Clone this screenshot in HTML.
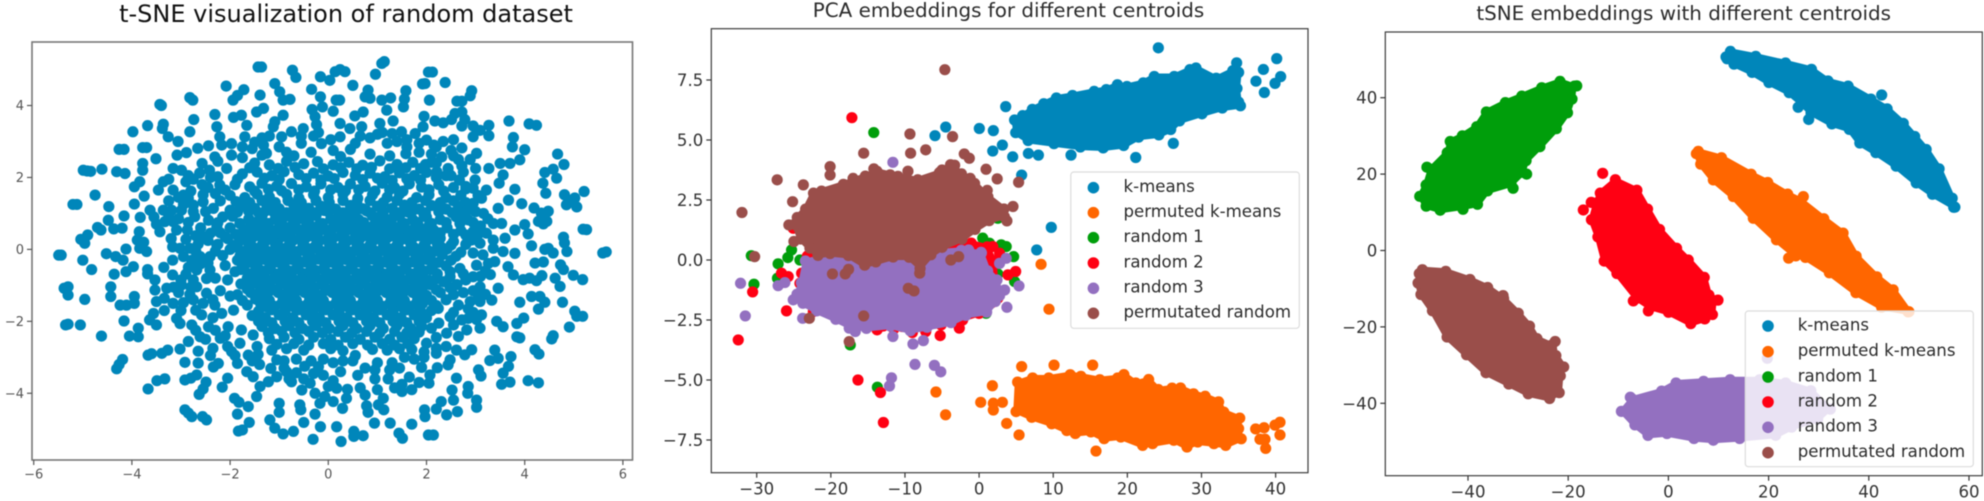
<!DOCTYPE html>
<html lang="en">
<head>
<meta charset="utf-8">
<title>Embedding scatter charts</title>
<style>
html,body{margin:0;padding:0;background:#fff;width:1984px;height:501px;overflow:hidden}
svg{display:block;font-family:"DejaVu Sans","Liberation Sans",sans-serif;filter:blur(.4px)}
.frame1{fill:none;stroke:#777;stroke-width:1.6}
.frame{fill:none;stroke:#3c3c3c;stroke-width:1.2}
text{fill:#2b2b2b}
</style>
</head>
<body>
<svg id="figure" width="1984" height="501" viewBox="0 0 1984 501" xmlns="http://www.w3.org/2000/svg">
  <rect width="1984" height="501" fill="#fff"/>

  <g>
    <text x="346" y="22" text-anchor="middle" font-size="24" style="fill:#111">t-SNE visualization of random dataset</text>
    <g id="p1-marks"></g>
    <rect class="frame1" x="32" y="42" width="600.5" height="418"/>
    <g id="p1-axes"></g>
  </g>

  <g>
    <text x="1008.5" y="17" text-anchor="middle" font-size="19.9">PCA embeddings for different centroids</text>
    <g id="p2-marks"></g>
    <rect class="frame" x="711.3" y="28.7" width="596.7" height="444"/>
    <g id="p2-axes"></g>
    <g font-size="16.6">
      <rect x="1070.8" y="172" width="228.5" height="156.3" rx="3" fill="#fff" fill-opacity=".8" stroke="#dcdcdc" stroke-width="1.2"/>
      <circle cx="1093.4" cy="187.7" r="5.8" fill="#0086ba"/>
      <text x="1123.5" y="192">k-means</text>
      <circle cx="1093.4" cy="212.7" r="5.8" fill="#ff6600"/>
      <text x="1123.5" y="217">permuted k-means</text>
      <circle cx="1093.4" cy="237.7" r="5.8" fill="#009e0b"/>
      <text x="1123.5" y="242">random 1</text>
      <circle cx="1093.4" cy="263" r="5.8" fill="#ff0013"/>
      <text x="1123.5" y="267.3">random 2</text>
      <circle cx="1093.4" cy="288.3" r="5.8" fill="#9370c0"/>
      <text x="1123.5" y="292.6">random 3</text>
      <circle cx="1093.4" cy="313.3" r="5.8" fill="#9a4e4a"/>
      <text x="1123.5" y="317.6">permutated random</text>
    </g>
  </g>

  <g>
    <text x="1683.7" y="20" text-anchor="middle" font-size="19.9">tSNE embeddings with different centroids</text>
    <g id="p3-marks"></g>
    <rect class="frame" x="1385.3" y="32" width="597" height="443.7"/>
    <g id="p3-axes"></g>
    <g font-size="16.6">
      <rect x="1745.3" y="311" width="228" height="155.7" rx="3" fill="#fff" fill-opacity=".8" stroke="#dcdcdc" stroke-width="1.2"/>
      <circle cx="1768" cy="326" r="5.8" fill="#0086ba"/>
      <text x="1797.7" y="330.3">k-means</text>
      <circle cx="1768" cy="351.7" r="5.8" fill="#ff6600"/>
      <text x="1797.7" y="356">permuted k-means</text>
      <circle cx="1768" cy="377" r="5.8" fill="#009e0b"/>
      <text x="1797.7" y="381.3">random 1</text>
      <circle cx="1768" cy="402" r="5.8" fill="#ff0013"/>
      <text x="1797.7" y="406.3">random 2</text>
      <circle cx="1768" cy="427.3" r="5.8" fill="#9370c0"/>
      <text x="1797.7" y="431.6">random 3</text>
      <circle cx="1768" cy="452.7" r="5.8" fill="#9a4e4a"/>
      <text x="1797.7" y="457">permutated random</text>
    </g>
  </g>
</svg>

<script>
/* ---------- Tick values ---------- */
const p1XTicks = [-6,-4,-2,0,2,4,6];
const p1YTicks = [-4,-2,0,2,4];
const p2XTicks = [-30,-20,-10,0,10,20,30,40];
const p2YTicks = [-7.5,-5,-2.5,0,2.5,5,7.5];
const p2YTickLabels = ['−7.5','−5.0','−2.5','0.0','2.5','5.0','7.5'];
const p3XTicks = [-40,-20,0,20,40,60];
const p3YTicks = [-40,-20,0,20,40];

/* ---------- Panel 1: random dataset, [x, y] ---------- */
const randomOuter = [[-5.49,-.16],[-5.44,-.16],[-5,-.3],[-4.82,-.56],[-5.04,.28],[-4.9,.4],[-4.96,.17],[-4.7,.61],[-4.63,.54],[-5.2,1.25],[-5.12,1.25],[-4.75,1.51],[-4.99,2.2],[-4.84,2.17],[-4.91,2.18],[-4.61,2.23],[-4.31,2.16],[-4.14,2.11],[-4.26,2.78],[-4.16,2.78],[-3.98,3.27],[-3.68,3.44],[-3.43,4.03],[-3.4,4],[-3.78,2.83],[-3.7,2.83],[-3.78,2.39],[-3.78,2.2],[-3.51,2.52],[-3.95,1.74],[-3.84,1.88],[-3.95,1.26],[-3.75,1.48],[-4.47,1.19],[-4.48,.81],[-4.37,.57],[-4.2,.59],[-4.16,.93],[-3.83,.89],[-3.85,.49],[-3.89,.26],[-4.12,.01],[-3.84,.03],[-3.7,-.06],[-3.76,.2],[-4.52,-.12],[-4.33,-.2],[-4.18,-.3],[-4.12,-.62],[-3.97,-.48],[-4.36,-.69],[-3.68,-.56],[-3.68,-.68],[-5.3,-1.04],[-5.38,-1.08],[-5.3,-1.27],[-4.96,-1.39],[-4.43,-1.04],[-4.43,-1.31],[-4.24,-1.55],[-4.11,-1.55],[-3.95,-1.31],[-3.95,-1.5],[-5.35,-2.1],[-5.3,-2.08],[-5.05,-2.1],[-4.16,-1.99],[-4.62,-2.41],[-4.05,-2.41],[-3.87,-2.19],[-3.87,-2.43],[-4.31,-3.32],[-4.19,-3.06],[-4.26,-3.2],[-3.67,-2.94],[-3.6,-2.9],[-3.39,-2.89],[-3.27,-2.8],[-3.67,-3.88],[-3.49,-3.65],[-3.33,-3.6],[-2.92,-3.14],[-2.92,-3.63],[-2.8,-3.58],[-2.92,-4.46],[-2.78,-4.65],[-2.85,-4.55],[-2.48,-4.74],[-2.56,-4.65],[-2.63,-4.03],[-2.49,-3.69],[-2.55,-3.88],[-1.85,-4.58],[-1.83,-5.05],[-1.75,-5.02],[-1.63,-4.37],[-1.61,-4.81],[-1.91,-4.14],[-1.82,-4.25]];
const randomRightEdge = [[4.09,3.49],[4.24,3.45],[4,2.77],[3.9,2.49],[4.67,2.65],[4.8,2.36],[4.58,2.23],[4.41,2.14],[4.65,1.98],[4.37,1.84],[4.43,1.56],[4.81,1.52],[5.02,1.43],[5.21,1.61],[4.85,1.24],[5.06,1.18],[4.92,1.34],[4.19,1.15],[4.48,1.06],[4.34,1.01],[3.94,1.27],[4.28,.78],[4.45,.78],[4.38,.71],[4,.69],[4.07,.43],[5.19,.56],[5.26,.55],[4.79,.34],[4.81,.18],[4.86,-.06],[4.14,.1],[4.48,.03],[4.58,-.1],[4.41,0],[5.59,-.1],[5.66,-.07],[4.21,-.38],[4.38,-.35],[4.73,-.43],[4.79,-.56],[4.99,-.72],[5.18,-.84],[4.72,-1.03],[4.62,-.8],[4.35,-.73],[3.97,-.84],[4.24,-.87],[4.1,-.8],[4.14,-1.31],[4.31,-1.31],[4.41,-1.47],[4.28,-1.66],[4.77,-1.47],[3.9,-1.47],[3.98,-1.91],[5.02,-1.72],[5.18,-1.86],[5.06,-1.86],[4.91,-2.16],[4.55,-2.49],[4.58,-2.4],[4.21,-2.79],[4.29,-2.91],[4.07,-3.65],[4.28,-3.71],[3.9,-2.46]];
const randomRightMid = [[1.92,4.6],[2.04,4.93],[2.12,4.93],[2.38,4.64],[2.06,4.15],[1.97,4.61],[2.92,4.41],[2.89,4.27],[2.62,4.12],[2.72,4.12],[1.95,3.7],[2.17,3.57],[2.34,3.52],[2.51,3.61],[2.58,3.78],[2.72,3.82],[2.78,3.61],[2.72,3.43],[2.95,3.43],[2.95,3.13],[3.09,3.31],[3.27,3.45],[3.27,3.16],[3.68,3.57],[3.77,3.11],[3.75,2.85],[3.02,2.67],[2.89,2.5],[2.72,2.32],[3.27,2.25],[2.99,1.93],[2.67,1.93],[3.22,1.65],[3.5,2.39],[3.7,2.39],[3.56,2.07],[3.48,1.84],[3.8,1.67],[3.12,1.42],[2.95,1.28],[3.16,1],[3.36,.72],[3.46,1.14],[3.67,1.37],[3.53,.72],[2.95,.49],[2.92,.26],[3.09,.17],[3.36,.26],[3.36,.03],[3.6,.31],[3.8,.54],[3.56,-.06],[3.8,-.11],[3.26,-.39],[3.02,-.44],[3.39,-.34],[3.66,-.48],[3.77,-.71],[3.46,-1.08],[3.09,-1.04],[2.95,-.76],[2.68,-.53],[3.33,-1.41],[3.09,-1.45],[2.89,-1.45],[2.72,-1.96],[2.85,-1.92],[3.12,-1.82],[3.09,-2.19],[3.43,-2],[3.56,-2.15],[3.84,-2.06],[3.84,-2.43],[2.82,-2.24],[2.48,-1.87],[2.41,-2.33],[2.65,-2.42],[2.61,-2.8],[2.92,-2.79],[2.78,-2.93],[2.48,-3.07],[2.44,-3.21],[3.39,-2.8],[3.46,-3.03],[3.29,-3.09],[3.72,-2.98],[3.67,-3.25],[3.56,-3.44],[3.53,-3.75],[3.7,-3.69],[3.06,-3.35],[3.11,-3.52],[2.85,-3.81],[2.84,-4],[3.02,-4.19],[3.02,-4.39],[2.61,-3.58],[2.52,-3.91],[2.55,-4.19],[2.63,-4.51],[2.41,-4.6],[2.3,-4.23],[2.2,-4.44],[1.96,-4.46],[1.97,-4.65],[2.14,-5.16],[2.04,-5.16],[2.2,-2.89],[2.22,-3.29],[2.07,-3.49],[2.05,-3.72],[1.9,-3.28],[2,-2.61],[2.1,-2.19],[2.24,-1.64]];
const randomBottom = [[-.71,-5.06],[-.92,-5.13],[-1.09,-4.97],[-1.19,-4.74],[-1,-4.28],[-1,-4.53],[-.58,-4.32],[-.56,-4.46],[-.5,-4.81],[-.27,-4.58],[-.31,-5.28],[-.16,-4.93],[.17,-4.93],[.26,-5.34],[.52,-5.06],[.52,-5.2],[.71,-5.18],[.94,-4.83],[1.26,-4.83],[1.44,-5.11],[1.51,-5.25],[1.7,-4.86],[.78,-4.35],[.81,-4.53],[1.02,-4.32],[1.12,-4.14],[1.13,-4.46],[.29,-4.42],[.37,-4.14],[.39,-3.89],[.1,-4.23],[-.17,-4.28],[-.07,-4.09],[0,-3.81],[.17,-3.86],[-.27,-4],[-.54,-3.91],[-.75,-3.68],[-.37,-3.72],[-.2,-3.26],[-.48,-3.25],[-.65,-3.43],[-.85,-3.4],[-1.05,-3.54],[-1.05,-3.07],[-1.17,-3.31],[-1.46,-4.09],[-1.39,-3.81],[-1.22,-3.68],[-1.53,-3.54],[-1.66,-3.4],[-1.85,-3.17],[-1.97,-2.84],[-1.63,-2.94],[-1.43,-2.92],[-2.05,-3.58],[-2.16,-3.83],[-2.24,-3.17],[-2.34,-3.27],[-2.65,-3.16],[-2.65,-2.83],[-2.68,-3.49],[-3.02,-2.77],[-2.85,-2.56],[-2.61,-2.43],[-2.78,-2.1],[-2.44,-2.15],[-3.09,-1.92],[-3.02,-2.06],[-3.56,-1.78],[-3.64,-1.96],[-3.5,-2.1],[-2.7,-1.69],[-2.58,-1.82],[-2.2,-2.47],[.5,-3.1],[.75,-3.3],[1,-3.15],[1.25,-3.35],[1.45,-3.3],[.6,-3.5],[.95,-3.6],[1.22,-3.6],[1.5,-3.75],[1.65,-3.55],[1.85,-3.7],[1,-3.9],[1.5,-3.95],[.25,-3.4],[-.1,-3.5],[.55,-2.95],[1.55,-3],[1.75,-3.05]];
const randomTop = [[-1.43,5.07],[-1.36,5.07],[-.73,4.98],[-.66,4.78],[-.16,4.8],[.03,4.7],[.14,4.94],[.24,5],[.34,4.94],[.5,4.56],[.96,4.87],[1.09,5.17],[1.14,5.22],[.81,4.43],[.75,4.24],[.85,4.2],[.16,4.15],[.23,4.15],[-.16,4.24],[-.34,4.45],[-1.09,4.61],[-.99,4.38],[-.92,4.15],[-.78,4.17],[-1.39,4.29],[-1.72,4.44],[-2.08,4.54],[-1.94,4.15],[-1.85,4.28],[-2.82,4.22],[-2.76,4.15],[1.09,4.15],[1.27,4.21],[1.19,3.87],[1.58,4.41],[1.53,3.96],[1.55,4.18],[.54,3.71],[.71,3.82],[.1,3.84],[-.12,3.96],[-.33,3.89],[-.27,3.69],[-.24,3.47],[.24,3.5],[-.92,3.73],[-1.09,3.55],[-1.12,3.41],[-1.32,3.92],[-1.46,3.82],[-1.77,3.73],[-1.66,3.45],[-1.93,3.67],[-2.31,3.75],[-2.27,3.41],[-2.74,3.61],[-2.82,3.27],[-3.06,3],[-3.36,3.48],[-3.38,3.36],[-3.26,3.13],[-2.66,2.81],[-2.44,2.88],[-2.89,2.69],[-3.08,2.62],[-2.31,2.57],[-2.21,3.13],[-2.17,2.9],[-3.16,2.25],[-2.99,2.2],[-2.9,1.88],[-3.36,1.88],[-3.46,1.65],[-3.16,1.65],[-2.95,1.51],[-2.57,2.39],[-2.42,2.2],[-2.57,1.8],[-2.21,1.79],[-2.07,2.25],[-1.97,2.62],[-1.97,2.94],[-1.7,3.13],[-1.32,2.9],[-1.26,2.67],[-.95,3.13],[-.75,3.27],[-.51,3.36],[-.14,2.94],[.24,3.13],[.44,3.36],[.68,3.41],[1.05,3.5],[1.32,3.57],[1.49,3.27],[1.77,3.22],[1.93,3.41],[2,3.04],[2.34,3],[2.55,3.05],[2.72,2.82],[2.31,2.57],[2.44,2.25],[2.21,2.16],[-1.55,2.8],[-1,2.85],[-.55,2.95],[.1,2.75],[.55,2.95],[.85,3.1],[1.2,2.95],[1.6,2.85],[1.85,2.7],[2.1,2.65]];
const randomLeftMid = [[-3.63,1.09],[-3.36,1.09],[-3.19,1.09],[-3.33,.77],[-3.16,.77],[-3.09,.54],[-3.43,.49],[-2.87,.54],[-2.99,1.09],[-2.75,1.23],[-2.55,1.32],[-2.34,1.14],[-2.72,.91],[-2.44,.81],[-2.27,.63],[-2,1.09],[-3.17,.07],[-3.02,.03],[-2.82,.03],[-2.61,-.2],[-2.41,-.2],[-2.27,.12],[-3.17,-.3],[-3.17,-.71],[-2.68,-.57],[-2.9,-.69],[-2.41,-.57],[-2.48,-.81],[-3.53,-.85],[-3.53,-1.13],[-3.29,-1.08],[-2.99,-.99],[-2.68,-1.04],[-2.48,-1.22],[-3.34,-1.36],[-3.16,-1.5],[-2.95,-1.48],[-3.34,-1.7],[-2.31,-1.55],[-2.17,-1.78],[-1.93,-1.69],[-2.04,-2.15],[-1.77,-2.24],[-1.53,-2.38],[-1.8,-2.61],[-2.1,.35],[-2.15,.9],[-2.3,-.05],[-2.1,-.45],[-2.05,-.85],[-2.2,-1.15],[-2.35,-1.4],[-2,-1.3],[-2.55,.35],[-2.6,-.4]];
const randomCenter = [[-1.5,2.4],[-1.2,2.35],[-.85,2.45],[-.5,2.38],[-.22,2.44],[.1,2.35],[.42,2.42],[.7,2.34],[1.05,2.46],[1.4,2.36],[1.72,2.42],[1.98,2.36],
[-1.75,2.1],[-1.45,2.15],[-1.15,2.05],[-.9,2.16],[-.6,2.08],[-.3,2.12],[0,2.04],[.3,2.14],[.55,2.06],[.85,2.12],[1.15,2.02],[1.45,2.13],[1.75,2.05],[2,2.14],
[-1.9,1.8],[-1.6,1.74],[-1.35,1.84],[-1.05,1.76],[-.75,1.83],[-.45,1.74],[-.15,1.82],[.2,1.72],[.45,1.82],[.75,1.75],[1.1,1.84],[1.35,1.72],[1.65,1.82],[1.9,1.73],[2.25,1.8],[2.55,1.72],
[-2,1.5],[-1.7,1.44],[-1.45,1.54],[-1.2,1.46],[-.85,1.53],[-.6,1.43],[-.3,1.52],[0,1.44],[.3,1.54],[.6,1.42],[.9,1.52],[1.2,1.45],[1.45,1.54],[1.8,1.44],[2.05,1.52],[2.4,1.44],[2.7,1.5],
[-1.75,1.2],[-1.5,1.14],[-1.25,1.22],[-1,1.13],[-.7,1.23],[-.4,1.14],[-.15,1.2],[.15,1.12],[.45,1.22],[.7,1.13],[1,1.2],[1.3,1.14],[1.55,1.23],[1.85,1.12],[2.1,1.22],[2.4,1.12],[2.65,1.2],
[-1.95,.92],[-1.62,.85],[-1.35,.93],[-1.08,.84],[-.82,.93],[-.52,.85],[-.25,.94],[.05,.84],[.35,.92],[.62,.83],[.9,.93],[1.18,.84],[1.45,.92],[1.72,.83],[2,.9],[2.28,.83],[2.6,.91],[2.85,.82],
[-2,.6],[-1.72,.54],[-1.45,.62],[-1.18,.53],[-.9,.62],[-.62,.55],[-.35,.63],[-.05,.54],[.2,.62],[.5,.53],[.78,.62],[1.05,.55],[1.32,.62],[1.6,.53],[1.85,.62],[2.15,.53],[2.42,.6],[2.7,.52],
[-2.05,.3],[-1.8,.24],[-1.55,.32],[-1.28,.23],[-1,.31],[-.72,.25],[-.45,.33],[-.18,.24],[.1,.32],[.38,.23],[.65,.31],[.92,.25],[1.2,.32],[1.45,.23],[1.72,.32],[2,.23],[2.28,.31],[2.55,.22],
[-2,0],[-1.7,-.05],[-1.42,.02],[-1.15,-.06],[-.88,.02],[-.6,-.05],[-.32,.03],[-.05,-.06],[.22,.01],[.5,-.06],[.78,.02],[1.05,-.05],[1.32,.02],[1.6,-.06],[1.88,.01],[2.15,-.06],[2.42,.01],[2.7,-.08],
[-1.85,-.3],[-1.58,-.36],[-1.3,-.28],[-1.02,-.36],[-.75,-.28],[-.48,-.35],[-.2,-.27],[.08,-.36],[.35,-.28],[.62,-.35],[.9,-.27],[1.18,-.36],[1.45,-.28],[1.72,-.35],[2,-.28],[2.25,-.36],[2.5,-.3],
[-1.9,-.62],[-1.62,-.68],[-1.35,-.6],[-1.08,-.68],[-.8,-.6],[-.52,-.67],[-.25,-.59],[.02,-.68],[.3,-.6],[.58,-.67],[.85,-.59],[1.12,-.68],[1.4,-.6],[1.68,-.68],[1.95,-.6],[2.22,-.68],[2.48,-.62],[2.75,-.68],
[-1.78,-.96],[-1.5,-.9],[-1.22,-.98],[-.95,-.9],[-.68,-.98],[-.4,-.9],[-.12,-.98],[.15,-.9],[.42,-.98],[.7,-.91],[.98,-.98],[1.25,-.9],[1.52,-.98],[1.8,-.9],[2.08,-.98],[2.35,-.9],[2.62,-.98],
[-1.85,-1.26],[-1.58,-1.2],[-1.3,-1.28],[-1.02,-1.2],[-.75,-1.28],[-.48,-1.2],[-.2,-1.28],[.08,-1.2],[.35,-1.28],[.62,-1.2],[.9,-1.28],[1.18,-1.2],[1.45,-1.28],[1.72,-1.2],[2,-1.28],[2.28,-1.2],[2.55,-1.26],
[-1.65,-1.55],[-1.38,-1.5],[-1.1,-1.58],[-.82,-1.5],[-.55,-1.58],[-.28,-1.5],[0,-1.58],[.28,-1.5],[.55,-1.58],[.82,-1.5],[1.1,-1.58],[1.38,-1.5],[1.65,-1.58],[1.92,-1.5],[2.2,-1.56],
[-1.55,-1.84],[-1.28,-1.9],[-1,-1.82],[-.72,-1.9],[-.45,-1.82],[-.18,-1.9],[.1,-1.82],[.38,-1.9],[.65,-1.82],[.92,-1.9],[1.2,-1.82],[1.48,-1.9],[1.75,-1.82],[2,-1.9],
[-1.35,-2.14],[-1.08,-2.2],[-.8,-2.12],[-.52,-2.2],[-.25,-2.12],[.02,-2.2],[.3,-2.12],[.58,-2.2],[.85,-2.12],[1.12,-2.2],[1.4,-2.12],[1.68,-2.2],[1.9,-2.14],
[-1.2,-2.48],[-.9,-2.44],[-.6,-2.5],[-.3,-2.44],[.05,-2.5],[.35,-2.44],[.65,-2.5],[.95,-2.44],[1.25,-2.5],[1.5,-2.44],[1.75,-2.48],
[-1.15,-2.8],[-.85,-2.76],[-.5,-2.8],[.05,-2.76],[.3,-2.82],[.9,-2.78],[1.2,-2.8],[1.45,-2.76]];
const randomCenterFill = [[-1.35,2.62],[-.7,2.6],[-.35,2.7],[.25,2.58],[.85,2.65],[1.25,2.6],[1.58,2.66],
[-1.6,2.27],[-1.02,2.25],[-.68,2.28],[-.1,2.24],[.25,2.27],[.58,2.24],[.88,2.28],[1.25,2.24],[1.58,2.27],[1.88,2.25],[2.2,2.4],
[-1.85,1.95],[-1.3,1.98],[-1,1.94],[-.45,1.97],[-.15,1.93],[.12,1.97],[.7,1.94],[1,1.98],[1.3,1.92],[1.6,1.96],[1.88,1.93],[2.2,2],[2.5,2.05],
[-2.1,1.65],[-1.5,1.62],[-1.22,1.67],[-.95,1.63],[-.6,1.66],[-.28,1.62],[.05,1.66],[.35,1.63],[.62,1.66],[.95,1.62],[1.25,1.66],[1.52,1.62],[2.05,1.66],[2.35,1.62],[2.8,1.68],
[-1.88,1.33],[-1.6,1.3],[-1.35,1.36],[-1.08,1.3],[-.82,1.36],[-.55,1.3],[-.25,1.36],[.02,1.3],[.3,1.36],[.58,1.3],[.85,1.36],[1.12,1.3],[1.4,1.36],[1.7,1.3],[1.98,1.36],[2.28,1.3],[2.55,1.35],
[-1.85,1.04],[-1.42,1.02],[-1.12,1.05],[-.85,1.02],[-.55,1.05],[-.28,1.02],[0,1.05],[.3,1.02],[.55,1.05],[.85,1.02],[1.12,1.05],[1.42,1.02],[1.7,1.05],[1.98,1.02],[2.25,1.05],[2.52,1.02],
[-2.25,.74],[-1.8,.72],[-1.5,.75],[-1.22,.72],[-.95,.75],[-.68,.72],[-.4,.75],[-.12,.72],[.18,.75],[.45,.72],[.72,.75],[1,.72],[1.28,.75],[1.55,.72],[1.82,.75],[2.1,.72],[2.4,.75],[2.68,.72],
[-2.2,.46],[-1.88,.42],[-1.6,.46],[-1.32,.42],[-1.05,.46],[-.78,.42],[-.5,.46],[-.22,.42],[.05,.46],[.32,.42],[.6,.46],[.88,.42],[1.15,.46],[1.42,.42],[1.7,.46],[1.98,.42],[2.28,.46],[2.55,.42],
[-2.25,.14],[-1.9,.12],[-1.62,.16],[-1.35,.12],[-1.08,.16],[-.8,.12],[-.52,.16],[-.25,.12],[.02,.16],[.3,.12],[.58,.16],[.85,.12],[1.12,.16],[1.4,.12],[1.68,.16],[1.95,.12],[2.22,.16],[2.5,.12],[2.8,.14],
[-2.15,-.17],[-1.8,-.19],[-1.52,-.15],[-1.25,-.19],[-.98,-.15],[-.7,-.19],[-.42,-.15],[-.15,-.19],[.12,-.15],[.4,-.19],[.68,-.15],[.95,-.19],[1.22,-.15],[1.5,-.19],[1.78,-.15],[2.05,-.19],[2.32,-.15],[2.6,-.19],
[-1.72,-.5],[-1.45,-.46],[-1.18,-.5],[-.9,-.46],[-.62,-.5],[-.35,-.46],[-.08,-.5],[.2,-.46],[.48,-.5],[.75,-.46],[1.02,-.5],[1.3,-.46],[1.58,-.5],[1.85,-.46],[2.12,-.5],[2.4,-.46],
[-1.65,-.8],[-1.38,-.76],[-1.1,-.82],[-.82,-.76],[-.55,-.82],[-.28,-.76],[0,-.82],[.28,-.76],[.55,-.82],[.82,-.76],[1.1,-.82],[1.38,-.76],[1.65,-.82],[1.92,-.76],[2.2,-.82],[2.48,-.76],
[-1.65,-1.1],[-1.38,-1.06],[-1.1,-1.12],[-.82,-1.06],[-.55,-1.12],[-.28,-1.06],[0,-1.12],[.28,-1.06],[.55,-1.12],[.82,-1.06],[1.1,-1.12],[1.38,-1.06],[1.65,-1.12],[1.92,-1.06],[2.2,-1.12],[2.48,-1.06],
[-1.75,-1.42],[-1.48,-1.38],[-1.2,-1.42],[-.92,-1.38],[-.65,-1.42],[-.38,-1.38],[-.1,-1.42],[.18,-1.38],[.45,-1.42],[.72,-1.38],[1,-1.42],[1.28,-1.38],[1.55,-1.42],[1.82,-1.38],[2.1,-1.42],[2.4,-1.4],
[-1.42,-1.72],[-1.15,-1.68],[-.88,-1.72],[-.6,-1.68],[-.32,-1.72],[-.05,-1.68],[.22,-1.72],[.5,-1.68],[.78,-1.72],[1.05,-1.68],[1.32,-1.72],[1.6,-1.68],[1.88,-1.72],[2.1,-1.7],
[-1.42,-2],[-1.15,-2.04],[-.88,-2],[-.6,-2.04],[-.32,-2],[-.05,-2.04],[.22,-2],[.5,-2.04],[.78,-2],[1.05,-2.04],[1.32,-2],[1.6,-2.04],[1.85,-2],
[-1.22,-2.32],[-.95,-2.28],[-.68,-2.32],[-.4,-2.28],[-.12,-2.32],[.2,-2.28],[.48,-2.32],[.78,-2.28],[1.05,-2.32],[1.35,-2.28],[1.6,-2.32],[1.85,-2.3],
[-1.05,-2.64],[-.7,-2.62],[-.4,-2.66],[-.1,-2.62],[.2,-2.66],[.5,-2.62],[.8,-2.66],[1.1,-2.62],[1.35,-2.66],[1.62,-2.62]];
const randomRing = [[-3.25,1.35],[-2.95,1.25],[-3.05,.85],[-2.85,.75],[-2.6,.6],[-2.4,.45],[-2.75,1.05],[-2.5,1.05],[-2.2,1.35],[-2.3,1.55],[-2.55,1.52],[-2.8,1.62],
[-3.55,.9],[-3.5,.7],[-2.9,.28],[-2.65,.15],[-2.45,.25],[-2.95,-.2],[-2.78,-.3],[-2.45,-.38],[-2.85,-.5],[-3,-.85],[-2.75,-.85],[-2.3,-.8],[-2.82,-1.25],[-2.55,-1.5],[-2.75,-1.4],[-3.05,-1.2],[-3.5,-1.45],[-2.35,-1.9],[-2.3,-2.25],[-2.1,-2.4],[-2.5,-2.5],[-2.35,-2.75],[-2.05,-2.7],
[-1.75,2.55],[-1.5,2.98],[-1.2,3.15],[-.85,2.7],[-.3,3.15],[.45,2.78],[.65,3.15],[1,3.2],[1.4,3],[1.6,3.05],[2.2,2.85],[2.55,2.6],[2.65,2.5],[2.1,2.42],[2.4,2.05],
[2.95,1.7],[2.8,1.3],[3,1.05],[2.75,.98],[3.1,.65],[2.95,.75],[3.22,.45],[2.8,.4],[3.15,-.15],[2.95,-.1],[3.3,-.7],[3.1,-.75],[2.8,-.85],[2.95,-1.15],[2.75,-1.2],[3.2,-1.25],[2.65,-1.55],[2.55,-1.75],[2.95,-1.75],[2.25,-2.05],[2.2,-2.45],[2.4,-2.7],
[1.7,-2.78],[1.95,-2.85],[-1.45,-2.7],[-1.4,-3.2],[-.9,-3.1],[-.65,-3.05],[-.35,-3.1],[-.1,-3.05],[.1,-3.15],[.3,-3.1],[-.8,-3.6],[-.5,-3.6],[.65,-3.85],[.75,-4.05],[1.35,-3.85],[1.7,-3.9]];
const randomDenseCore = [[-1.62,1.06],[-1.28,1.07],[-.98,.97],[-.68,1],[-.38,.98],[-.08,1.08],[.22,.99],[.48,.96],[.78,1.07],[1.08,.95],[1.35,.98],[1.62,1.04],[1.95,.96],
[-1.58,.66],[-1.32,.68],[-1.02,.58],[-.75,.65],[-.48,.58],[-.2,.66],[.08,.58],[.35,.68],[.62,.6],[.92,.66],[1.18,.6],[1.48,.66],[1.75,.58],[2.05,.66],
[-1.72,.38],[-1.42,.38],[-1.15,.28],[-.88,.36],[-.58,.3],[-.32,.37],[-.02,.28],[.25,.36],[.52,.28],[.78,.38],[1.05,.3],[1.32,.37],[1.58,.29],[1.85,.38],[2.12,.3],
[-1.85,.05],[-1.55,.08],[-1.28,-.02],[-1,.07],[-.74,-.02],[-.46,.06],[-.18,-.02],[.1,.07],[.36,-.02],[.65,.06],[.92,-.02],[1.18,.06],[1.46,-.02],[1.74,.06],[2.02,-.02],[2.3,.06],
[-1.72,-.24],[-1.42,-.24],[-1.15,-.32],[-.88,-.24],[-.6,-.33],[-.34,-.24],[-.05,-.32],[.22,-.24],[.5,-.32],[.76,-.24],[1.04,-.32],[1.32,-.24],[1.58,-.32],[1.86,-.24],[2.12,-.34],
[-1.78,-.56],[-1.5,-.62],[-1.22,-.55],[-.95,-.63],[-.66,-.55],[-.38,-.62],[-.1,-.55],[.16,-.62],[.44,-.55],[.72,-.62],[.98,-.55],[1.26,-.63],[1.54,-.55],[1.82,-.62],[2.08,-.56],
[-1.52,-.94],[-1.25,-.84],[-.96,-.95],[-.7,-.84],[-.42,-.95],[-.14,-.84],[.14,-.96],[.4,-.84],[.68,-.95],[.96,-.84],[1.22,-.96],[1.5,-.84],[1.78,-.96],[2.05,-.86],
[-1.45,-1.24],[-1.18,-1.14],[-.88,-1.25],[-.62,-1.14],[-.35,-1.25],[-.06,-1.14],[.2,-1.25],[.48,-1.14],[.76,-1.25],[1.02,-1.14],[1.3,-1.25],[1.58,-1.14],[1.85,-1.25],
[-1.25,-1.6],[-.96,-1.52],[-.68,-1.62],[-.42,-1.52],[-.14,-1.62],[.14,-1.52],[.42,-1.62],[.68,-1.52],[.96,-1.62],[1.24,-1.52],[1.52,-1.62],[1.78,-1.52]];
const randomMidFill = [[-2.85,1.42],[-3.05,1.45],[-2.45,1.72],[-2.75,1.95],[-2.4,2],[-2.25,2.02],[-2.85,2.05],[-3.25,1.95],[-2.62,2.12],[-2.25,2.45],[-1.75,2.85],[-1.35,3.1],[-.55,3.15],[-.2,3.25],[.05,3.05],[1.1,3.25],[1.3,3.22],[1.85,2.95],[2.15,2.9],[2.5,2.75],
[2.75,2.15],[3,2.25],[2.8,1.75],[3.05,1.5],[2.85,1.1],[3.25,.85],[3.05,.42],[3.2,-.6],[3.05,-1.25],[2.85,-1.65],[2.55,-2.1],[3.02,-1.95],[2.2,-2.75],[1.95,-3],[1.3,-3.15],[.95,-3.35],[.1,-3.65],[-.3,-3.45],[-.9,-3.3],[-1.55,-3.1],[-1.9,-2.95],[-2.4,-2.95],
[-2.7,-2.25],[-3,-1.7],[-3.15,-1.05],[-2.8,-1.05],[-3.35,-.5],[-2.7,-.05],[-3.2,.3],[-2.7,.38],[-3.25,.95]];

/* ---------- Panel 2: PCA. Rims trace the silhouette of each dense cluster; strays are isolated points ---------- */
const pcaKMeansRim = [[4.18,5.9],[5.52,6.18],[6.87,6.45],[8.45,6.69],[10.25,6.94],[12.49,7.05],[15.41,7.22],[16.98,7.29],[18.56,7.5],[19.9,7.43],[21.93,7.57],[23.5,7.84],[26.2,7.84],[28.23,8.12],[29.44,8.19],[32.05,7.77],[33.85,8.05],[34.97,8.4],[35.65,7.84],[35.43,7.15],[35.65,6.59],[35.56,6.25],[32.94,6.14],[30.25,5.9],[27.33,5.62],[26.2,5.27],[24.4,5.02],[21.7,4.93],[19.69,4.58],[16.76,4.47],[13.6,4.51],[10.02,4.65],[6.42,4.79],[4.39,5.2]];
const pcaKMeansStrays = [[24.18,8.84],[3.59,6.39],[.03,5.48],[1.92,5.39],[3.14,4.79],[1.84,4.54],[4.53,4.3],[6.65,4.44],[8,4.37],[12.4,4.37],[21.13,4.27],[26.2,4.86],[5.74,3.54],[40.15,8.39],[38.35,7.94],[37.35,7.45],[38.48,6.98],[39.92,7.36],[40.68,7.64],[-4.5,5.54],[-5.95,5.18],[9.74,1.36],[7.77,.42]];
const pcaPermutedRim = [[4.62,-5],[7.1,-4.72],[9.34,-4.72],[12.26,-4.58],[13.84,-4.65],[16.31,-4.79],[18.56,-4.72],[19.69,-4.58],[21.26,-4.93],[23.05,-4.79],[24.4,-5.21],[25.98,-5.14],[27.33,-5.14],[29.13,-5.39],[30.7,-5.49],[32.72,-5.76],[33.4,-6.18],[35.65,-6.46],[35.65,-7.01],[35.87,-7.57],[33.4,-7.92],[31.6,-7.85],[29.57,-7.78],[28,-7.99],[26.2,-7.71],[23.5,-7.85],[21.93,-7.92],[19.01,-7.57],[16.76,-7.64],[14.97,-7.36],[12.94,-7.43],[11.59,-7.29],[9.57,-7.01],[6.87,-6.74],[4.39,-6.39]];
const pcaPermutedStrays = [[5.74,-4.44],[10.11,-4.38],[15.32,-4.38],[1.79,-5.24],[.22,-5.93],[1.92,-5.97],[3.14,-5.93],[1.92,-6.25],[3.72,-6.81],[5.39,-7.29],[15.77,-7.96],[37.31,-7.04],[38.44,-6.99],[40.59,-6.76],[39.92,-6.88],[40.59,-7.29],[37.89,-7.47],[38.57,-7.47],[38.66,-7.85],[-5.82,-5.5],[-4.52,-6.45],[8.36,-.18],[9.43,-2.05]];
const pcaRandom1Strays = [[-14.21,5.31],[-30.73,.18],[-30.37,-1.01],[-27.11,-.16],[-27.2,-.76],[-25.3,.42],[-24.17,0],[.49,.91],[2.98,.63],[3.66,.56],[4.66,.14],[2.53,-.58],[.94,-2.22],[-17.38,-3.54],[2.53,1.74],[1.4,.7],[4.79,-.9],[-13.72,-5.3],[-25.8,.1],[.5,.4]];
const pcaRandom2Rim = [[-24,-.9],[-23.8,.2],[-23,.6],[-20,1],[-10,1],[-1,.9],[1.5,.7],[2.6,0],[2.9,-1.3],[2.2,-1.9],[.3,-2.4],[-2.3,-2.65],[-5,-2.9],[-9,-3.05],[-13,-2.95],[-17,-2.85],[-20,-2.45],[-23,-2]];
const pcaRandom2Strays = [[-25.07,1.32],[-26.66,-.55],[-25.75,-.69],[-23.94,-.55],[-24.17,-.97],[-25.98,-2.12],[-22.36,-2.15],[-30.55,-1.33],[-32.49,-3.33],[-13.76,-2.91],[-11.5,-2.87],[-9,-3.02],[-7.2,-2.98],[-5.25,-3.15],[-2.67,-2.84],[-2.22,-2.5],[-1.09,.63],[1.85,.56],[2.76,.28],[1.17,.21],[1.62,-.27],[3.89,-.62],[4.93,-.48],[2.53,-1.59],[2.3,-1.39],[-16.48,-2.77],[-10.37,-2.77],[-17.16,5.93],[-16.34,-5],[-13.31,-5.52],[-12.91,-6.77]];
const pcaRandom3Rim = [[-24.6,-.9],[-23.9,.1],[-20.8,.3],[-18.3,.4],[-15.6,.4],[-11,.5],[-6.5,.5],[-2.4,.6],[.7,.45],[1.7,-.35],[3,-.75],[3.4,-1.5],[2.7,-1.85],[1.3,-2.35],[-1.6,-2.5],[-3.6,-2.8],[-6.9,-3],[-9.3,-3.15],[-12,-2.95],[-15.2,-3.05],[-17.6,-2.95],[-19.6,-2.65],[-22.2,-2.3],[-24.2,-1.95],[-25.2,-1.45]];
const pcaRandom3Strays = [[-11.63,4.07],[-32.18,-.97],[-31.54,-2.33],[-27.11,-1.07],[-26.2,-.94],[-25.07,-1.66],[-23.8,-2.43],[3.66,.07],[2.76,-.14],[5.38,-1.08],[3.44,-1.25],[3.75,-1.97],[-17.52,-2.84],[-16.7,-2.98],[-11.63,-3.19],[-8.92,-3.5],[-7.52,-3.36],[-1.41,.42],[.27,.32],[-8.65,-4.35],[-6.03,-4.39],[-5.17,-4.66],[-11.82,-4.91],[-12.09,-5.25]];
const pcaPermRandomRim = [[-25.07,1.88],[-23.94,2.23],[-22.81,2.92],[-21.45,3.06],[-18.51,3.34],[-15.57,3.68],[-13.76,3.89],[-10.82,3.68],[-8.33,3.54],[-5.62,3.82],[-3.81,4.17],[-2,3.75],[-.19,3.34],[1.62,2.78],[3.89,2.23],[3.89,1.67],[1.62,1.46],[-.19,1.11],[-2,.7],[-4.71,.35],[-6.07,.07],[-7.88,-.55],[-9.69,-.07],[-11.5,-.07],[-13.76,-.27],[-15.57,-.41],[-17.83,0],[-20.1,.07],[-21.91,0],[-23.26,.35],[-24.62,.77],[-25.53,1.46]];
const pcaPermRandomStrays = [[-27.24,3.34],[-31.99,1.98],[-20.1,3.89],[-20.1,3.54],[-23.71,3.13],[-25.16,2.43],[-25.66,1.46],[-24.98,.77],[-30.28,.14],[-19.78,-.58],[-18.06,-.58],[-17.61,-.39],[-15.57,4.45],[-9.24,4.45],[-7.2,4.59],[-9.33,5.25],[-3.58,5.14],[-2,4.42],[-1.32,4.24],[.94,3.78],[2.44,3.38],[5.33,3.24],[4.57,2.23],[3.75,1.63],[-3.81,0],[-2.76,.14],[-8.01,-.55],[-9.55,-1.18],[-8.78,-1.29],[-15.57,-2.33],[-22.9,-2.43],[-17.52,-3.4],[-4.62,7.93],[-17,3.4],[-14.2,3.8],[-12,3.55],[-9.6,3.7],[-5,3.75],[-3.3,3.95],[-1.2,3.4],[1.1,2.9]];

/* ---------- Panel 3: tSNE ---------- */
const tsneKMeansRim = [[10.63,51.18],[12.29,53.36],[17.62,52.06],[23.6,50.31],[28.93,48.56],[32.25,45.51],[36.24,44.2],[40.9,40.71],[44.23,38.09],[47.56,34.17],[49.88,30.68],[52.21,27.19],[54.87,21.95],[57.54,14.1],[57.87,11.04],[56.87,10.17],[52.21,13.66],[48.89,16.72],[44.89,21.08],[40.9,24.57],[37.58,27.19],[35.58,30.68],[32.25,31.99],[27.93,35.04],[25.93,37.66],[23.6,40.27],[19.61,42.89],[16.28,45.51],[12.63,47.69],[10.96,49.44]];
const tsneKMeansStrays = [[42.57,40.71],[25.9,37.5],[28,34.3]];
const tsnePermutedRim = [[4.64,25.44],[5.97,27.19],[10.96,25.44],[16.95,21.08],[20.28,18.9],[24.27,15.84],[26.93,14.1],[31.59,9.3],[35.58,5.37],[38.24,-.74],[42.23,-5.97],[45.56,-9.46],[48.89,-15.57],[47.89,-17.32],[42.23,-16],[36.91,-12.08],[31.59,-6.84],[26.93,-2.92],[24.93,-2.48],[20.94,1.88],[16.28,7.55],[12.29,13.22],[8.3,17.59],[5.64,21.95]];
const tsnePermutedStrays = [[26.93,14.1],[24,-2]];
const tsneRandom1Rim = [[-50.58,14.1],[-49.25,17.59],[-48.25,21.95],[-44.92,26.31],[-44.25,29.37],[-41.59,31.11],[-38.93,33.29],[-36.94,37.22],[-32.94,39.84],[-29.62,41.58],[-25.62,43.77],[-21.63,45.51],[-17.97,43.77],[-18.31,39.4],[-19.3,35.48],[-21.63,31.11],[-24.96,26.31],[-27.62,22.82],[-28.29,19.77],[-30.95,16.28],[-35.61,14.53],[-37.6,11.04],[-40.93,10.17],[-45.59,9.3],[-48.91,10.61]];
const tsneRandom1Strays = [[-18.3,43.1],[-48.2,21.8],[-28.3,20],[-31,16.3],[-41,10.8]];
const tsneRandom2Rim = [[-15.31,12.79],[-14.31,15.84],[-10.66,19.77],[-5.67,16.72],[-3.34,11.48],[-1.01,6.24],[2.32,1.44],[4.65,-1.61],[7.97,-6.41],[8.97,-11.21],[9.97,-12.95],[9.64,-17.32],[7.64,-19.06],[4.31,-20.37],[-.34,-17.32],[-3.97,-16],[-6.99,-13.39],[-10.99,-6.84],[-13.65,-3.35],[-14.98,3.19],[-16.31,7.99]];
const tsneRandom2Strays = [[-13.12,20.2],[-16.98,10.61],[-15.4,12.6],[9.9,-13],[-7,-13.2],[-4,-15.8]];
const tsneRandom3Rim = [[-10.33,-42.18],[-7.67,-37.82],[-1.68,-35.64],[1.31,-33.46],[6.97,-33.02],[12.29,-32.59],[18.28,-32.59],[23.6,-33.46],[28.93,-35.64],[33.25,-41.31],[30.26,-45.24],[24.93,-47.42],[21.61,-49.6],[14.29,-50.47],[8.97,-50.91],[4.97,-50.47],[-.35,-49.17],[-4.34,-49.6],[-7.34,-46.55]];
const tsneRandom3Strays = [[19.74,-28.22],[-7.6,-38.4]];
const tsnePermRandomRim = [[-50.58,-5.54],[-49.25,-3.79],[-44.25,-4.23],[-39.27,-6.41],[-35.61,-8.59],[-32.28,-11.64],[-29.28,-15.57],[-26.96,-19.06],[-25.62,-22.12],[-22.63,-23.86],[-21.63,-26.92],[-19.97,-30.23],[-20.64,-33.02],[-20.97,-37.82],[-23.63,-40],[-28.29,-38.69],[-32.28,-36.08],[-36.94,-33.02],[-40.93,-28.22],[-44.92,-23.43],[-47.91,-16.44],[-50.24,-12.08],[-50.91,-8.59]];
const tsnePermRandomStrays = [[-33,-11.8],[-22.6,-23.8],[-23.3,-26]];

/* ---------- Axis functions ---------- */
const p1X = v => 328.3 + 49.1 * v;
const p1Y = v => 249.4 - 35.97 * v;
const p2X = v => 979.1 + 7.413 * v;
const p2Y = v => 260 - 24 * v;
const p3X = v => 1668.4 + 5.01 * v;
const p3Y = v => 250.5 - 3.82 * v;

const NS = 'http://www.w3.org/2000/svg';
const BLUE = '#0086ba', ORANGE = '#ff6600', GREEN = '#009e0b', RED = '#ff0013', PURPLE = '#9370c0', BROWN = '#9a4e4a';

function addPoint(parent, cx, cy, r, color) {
  const el = document.createElementNS(NS, 'circle');
  
  
  el.setAttribute('cx', cx.toFixed(2));
  el.setAttribute('cy', cy.toFixed(2));
  el.setAttribute('r', r);
  el.setAttribute('fill', color);
  parent.appendChild(el);
}

function drawPoints(parent, pts, X, Y, r, color) {
  pts.forEach(p => addPoint(parent, X(p[0]), Y(p[1]), r, color));
}

/* The rim values are silhouette samples. The overlapping interior of the cluster is
   drawn as a solid core; rim markers sit just inside the silhouette and give the bumpy edge. */
function drawCluster(parent, rim, X, Y, r, color) {
  const pts = rim.map(p => [X(p[0]), Y(p[1])]);
  const n = pts.length;
  let area = 0;
  for (let i = 0; i < n; i++) {
    const a = pts[i], b = pts[(i + 1) % n];
    area += a[0] * b[1] - b[0] * a[1];
  }
  const sign = area > 0 ? 1 : -1;
  const offsetBy = d => pts.map((p, i) => {
    const prev = pts[(i - 1 + n) % n], next = pts[(i + 1) % n];
    const tx = next[0] - prev[0], ty = next[1] - prev[1];
    const len = Math.hypot(tx, ty) || 1;
    return [p[0] - sign * ty / len * d, p[1] + sign * tx / len * d];
  });
  const core = document.createElementNS(NS, 'polygon');
  
  
  core.setAttribute('points', offsetBy(r * 0.3).map(p => p[0].toFixed(1) + ',' + p[1].toFixed(1)).join(' '));
  core.setAttribute('fill', color);
  parent.appendChild(core);
  offsetBy(r * 0.85).forEach(p => addPoint(parent, p[0], p[1], r, color));
}

function drawAxes(parent, xTicks, yTicks, yLabels, X, Y, bottom, left, fontSize, tickColor, textColor) {
  xTicks.forEach(v => {
    const tick = document.createElementNS(NS, 'line');
    
    
    tick.setAttribute('x1', X(v)); tick.setAttribute('x2', X(v));
    tick.setAttribute('y1', bottom); tick.setAttribute('y2', bottom + 5);
    tick.setAttribute('stroke', tickColor); tick.setAttribute('stroke-width', 1.2);
    parent.appendChild(tick);
    const label = document.createElementNS(NS, 'text');
    
    
    label.setAttribute('x', X(v));
    label.setAttribute('y', bottom + 5 + fontSize * 1.02);
    label.setAttribute('text-anchor', 'middle');
    label.setAttribute('font-size', fontSize);
    label.style.fill = textColor;
    label.textContent = String(v).replace('-', '−');
    parent.appendChild(label);
  });
  yTicks.forEach((v, i) => {
    const tick = document.createElementNS(NS, 'line');
    
    
    tick.setAttribute('x1', left - 5); tick.setAttribute('x2', left);
    tick.setAttribute('y1', Y(v)); tick.setAttribute('y2', Y(v));
    tick.setAttribute('stroke', tickColor); tick.setAttribute('stroke-width', 1.2);
    parent.appendChild(tick);
    const label = document.createElementNS(NS, 'text');
    
    
    label.setAttribute('x', left - 8);
    label.setAttribute('y', Y(v) + fontSize * 0.36);
    label.setAttribute('text-anchor', 'end');
    label.setAttribute('font-size', fontSize);
    label.style.fill = textColor;
    label.textContent = yLabels ? yLabels[i] : String(v).replace('-', '−');
    parent.appendChild(label);
  });
}

/* ---------- Draw ---------- */
const g1 = document.getElementById('p1-marks');
[randomOuter, randomRightEdge, randomRightMid, randomBottom, randomTop, randomLeftMid, randomCenter, randomCenterFill, randomRing, randomDenseCore, randomMidFill]
  .forEach(set => drawPoints(g1, set, p1X, p1Y, 5.6, BLUE));

const g2 = document.getElementById('p2-marks');
drawCluster(g2, pcaKMeansRim, p2X, p2Y, 5.6, BLUE);
drawPoints(g2, pcaKMeansStrays, p2X, p2Y, 5.6, BLUE);
drawCluster(g2, pcaPermutedRim, p2X, p2Y, 5.6, ORANGE);
drawPoints(g2, pcaPermutedStrays, p2X, p2Y, 5.6, ORANGE);
drawPoints(g2, pcaRandom1Strays, p2X, p2Y, 5.6, GREEN);
drawCluster(g2, pcaRandom2Rim, p2X, p2Y, 5.6, RED);
drawPoints(g2, pcaRandom2Strays, p2X, p2Y, 5.6, RED);
drawCluster(g2, pcaRandom3Rim, p2X, p2Y, 5.6, PURPLE);
drawPoints(g2, pcaRandom3Strays, p2X, p2Y, 5.6, PURPLE);
drawCluster(g2, pcaPermRandomRim, p2X, p2Y, 5.6, BROWN);
drawPoints(g2, pcaPermRandomStrays, p2X, p2Y, 5.6, BROWN);

const g3 = document.getElementById('p3-marks');
drawCluster(g3, tsneKMeansRim, p3X, p3Y, 5.6, BLUE);
drawPoints(g3, tsneKMeansStrays, p3X, p3Y, 5.6, BLUE);
drawCluster(g3, tsnePermutedRim, p3X, p3Y, 5.6, ORANGE);
drawPoints(g3, tsnePermutedStrays, p3X, p3Y, 5.6, ORANGE);
drawCluster(g3, tsneRandom1Rim, p3X, p3Y, 5.6, GREEN);
drawPoints(g3, tsneRandom1Strays, p3X, p3Y, 5.6, GREEN);
drawCluster(g3, tsneRandom2Rim, p3X, p3Y, 5.6, RED);
drawPoints(g3, tsneRandom2Strays, p3X, p3Y, 5.6, RED);
drawCluster(g3, tsneRandom3Rim, p3X, p3Y, 5.6, PURPLE);
drawPoints(g3, tsneRandom3Strays, p3X, p3Y, 5.6, PURPLE);
drawCluster(g3, tsnePermRandomRim, p3X, p3Y, 5.6, BROWN);
drawPoints(g3, tsnePermRandomStrays, p3X, p3Y, 5.6, BROWN);

drawAxes(document.getElementById('p1-axes'), p1XTicks, p1YTicks, null, p1X, p1Y, 460, 32, 13, '#555', '#555');
drawAxes(document.getElementById('p2-axes'), p2XTicks, p2YTicks, p2YTickLabels, p2X, p2Y, 472.7, 711.3, 16.6, '#333', '#333');
drawAxes(document.getElementById('p3-axes'), p3XTicks, p3YTicks, null, p3X, p3Y, 475.7, 1385.3, 16.6, '#333', '#333');
</script>
</body>
</html>
